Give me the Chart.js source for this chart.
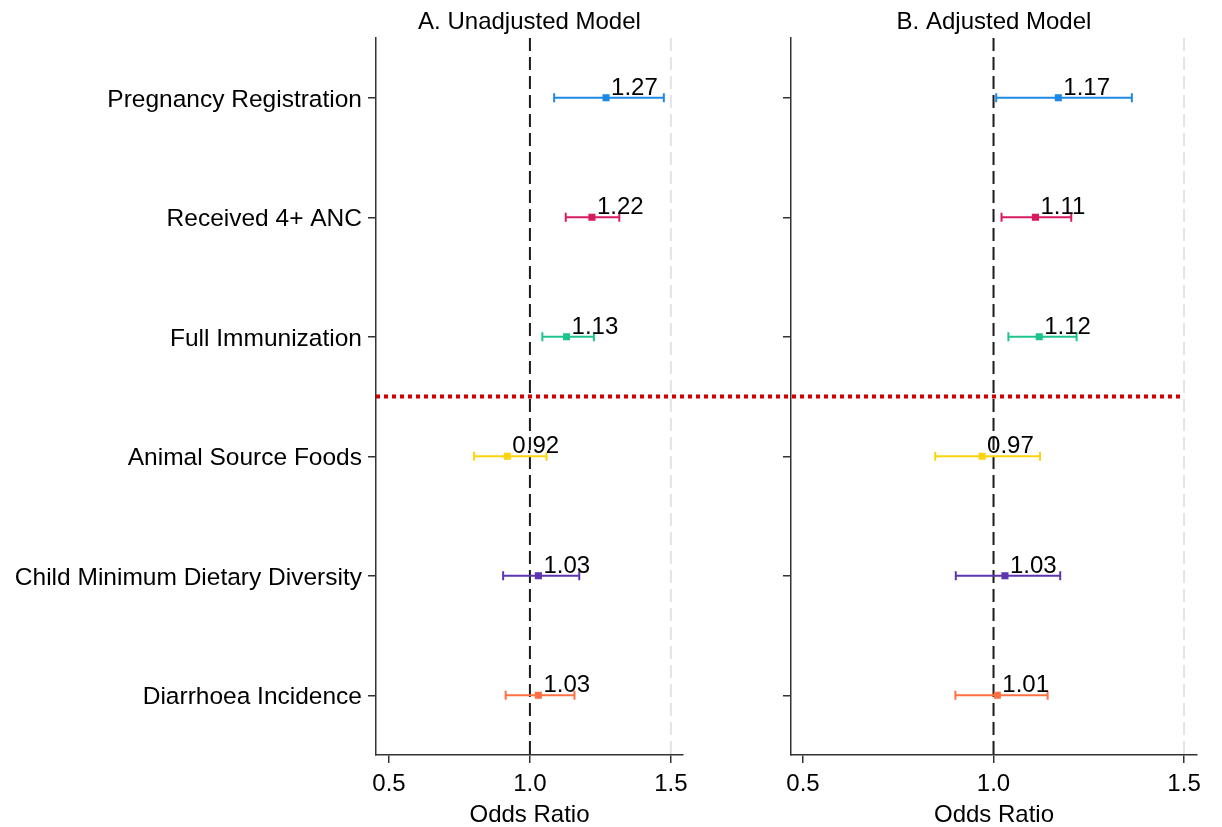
<!DOCTYPE html>
<html>
<head>
<meta charset="utf-8">
<script src="https://cdn.jsdelivr.net/npm/chart.js@4.4.1/dist/chart.umd.min.js"></script>
<style>
  html, body { margin: 0; padding: 0; background: #fff; }
  #wrap { position: relative; width: 1222px; height: 827px; }
  #chartA { position: absolute; left: 0; top: 0; }
  #chartB { position: absolute; left: 737px; top: 0; }
</style>
</head>
<body>
<div id="wrap">
  <canvas id="chartA" width="737" height="827"></canvas>
  <canvas id="chartB" width="485" height="827"></canvas>
</div>
<script>
// data
const outcomes = [
  'Pregnancy Registration',
  'Received 4+ ANC',
  'Full Immunization',
  'Animal Source Foods',
  'Child Minimum Dietary Diversity',
  'Diarrhoea Incidence'
];
const colors = ['#1e88e5', '#d81b60', '#1ec48c', '#fdd20f', '#5e35b1', '#ff7043'];

const unadjOR   = [1.27, 1.22, 1.13, 0.92, 1.03, 1.03];
const unadjLow  = [1.086, 1.127, 1.044, 0.802, 0.905, 0.914];
const unadjHigh = [1.475, 1.317, 1.227, 1.059, 1.175, 1.158];

const adjOR   = [1.17, 1.11, 1.12, 0.97, 1.03, 1.01];
const adjLow  = [1.007, 1.021, 1.039, 0.847, 0.901, 0.900];
const adjHigh = [1.363, 1.204, 1.218, 1.122, 1.175, 1.142];

const xTicks = [0.5, 1.0, 1.5];
const nullLine = 1.0;
const gridLine = 1.5;
const separatorAt = 2.5; // between Full Immunization and Animal Source Foods

const FONT = '"Liberation Sans", Arial, sans-serif';
const INK = '#000000';
const AXIS = '#333333';

function buildDatasets(or, lo, hi) {
  const ds = outcomes.map((name, i) => ({
    label: name,
    data: [{x: lo[i], y: name}, {x: hi[i], y: name}],
    showLine: true,
    borderColor: colors[i],
    borderWidth: 2,
    pointStyle: 'line',
    pointRotation: 90,
    pointRadius: 4.5,
    pointHoverRadius: 4.5,
    pointBorderWidth: 2,
    pointBorderColor: colors[i]
  }));
  ds.push({
    label: 'OR',
    data: outcomes.map((name, i) => ({x: or[i], y: name})),
    pointStyle: 'rect',
    pointRadius: 5,
    pointHoverRadius: 5,
    backgroundColor: colors,
    borderWidth: 0
  });
  return ds;
}

// reference lines, value labels and the panel title
const panelPlugin = {
  id: 'panel',
  beforeDatasetsDraw(chart, args, opts) {
    const {ctx, chartArea: a, scales: {x, y}} = chart;
    ctx.save();
    ctx.lineWidth = 2;
    ctx.setLineDash([13, 6]);
    let px = x.getPixelForValue(gridLine);
    ctx.strokeStyle = '#e4e4e4';
    ctx.beginPath(); ctx.moveTo(px, a.top); ctx.lineTo(px, a.bottom); ctx.stroke();
    px = x.getPixelForValue(nullLine);
    ctx.strokeStyle = '#1a1a1a';
    ctx.beginPath(); ctx.moveTo(px, a.top); ctx.lineTo(px, a.bottom); ctx.stroke();

    const sy = y.getPixelForValue(separatorAt);
    const x0 = opts.sepFromArea ? a.left : 0;
    const x1 = opts.sepToEdge ? chart.width : x.getPixelForValue(gridLine);
    ctx.setLineDash([4, 4]);
    ctx.lineDashOffset = opts.dashOffset || 0;
    ctx.lineWidth = 4;
    ctx.strokeStyle = '#cc0000';
    ctx.beginPath(); ctx.moveTo(x0, sy); ctx.lineTo(x1, sy); ctx.stroke();
    ctx.restore();
  },
  afterDatasetsDraw(chart, args, opts) {
    const {ctx, chartArea: a, scales: {x, y}} = chart;
    ctx.save();
    ctx.fillStyle = INK;
    ctx.font = '24px ' + FONT;
    ctx.textAlign = 'left';
    ctx.textBaseline = 'alphabetic';
    opts.values.forEach((v, i) => {
      ctx.fillText(v.toFixed(2), x.getPixelForValue(v) + 5, y.getPixelForValue(i) - 3);
    });
    ctx.textAlign = 'center';
    ctx.textBaseline = 'middle';
    ctx.fillText(opts.title, (a.left + a.right) / 2, 22);
    ctx.restore();
  }
};

function makeChart(canvasId, cfg) {
  return new Chart(document.getElementById(canvasId), {
    type: 'scatter',
    data: {datasets: buildDatasets(cfg.or, cfg.lo, cfg.hi)},
    options: {
      responsive: false,
      animation: false,
      events: [],
      layout: {padding: cfg.padding},
      scales: {
        x: {
          type: 'linear',
          min: cfg.xmin,
          max: cfg.xmax,
          afterBuildTicks: s => { s.ticks = xTicks.map(v => ({value: v})); },
          afterFit: s => { s.height = 72; },
          grid: {drawOnChartArea: false, drawTicks: true, tickLength: 8, color: AXIS, lineWidth: 1.5},
          border: {display: true, color: AXIS, width: 1.5},
          ticks: {color: INK, font: {size: 24, family: FONT}, padding: 7, maxRotation: 0,
                  callback: v => Number(v).toFixed(1)},
          title: {display: true, text: 'Odds Ratio', color: INK,
                  font: {size: 24, family: FONT, lineHeight: 1.0},
                  padding: {top: 0, bottom: 0}}
        },
        y: {
          type: 'category',
          labels: outcomes,
          offset: true,
          afterFit: s => { s.width = cfg.yWidth; },
          grid: {drawOnChartArea: false, drawTicks: true, tickLength: 8, offset: false, color: AXIS, lineWidth: 1.5},
          border: {display: true, color: AXIS, width: 1.5},
          ticks: {display: cfg.showLabels, color: INK, font: {size: 24.5, family: FONT},
                  padding: 6, labelOffset: 2}
        }
      },
      plugins: {
        legend: {display: false},
        tooltip: {enabled: false},
        panel: {
          title: cfg.title,
          values: cfg.or,
          sepFromArea: cfg.sepFromArea,
          sepToEdge: cfg.sepToEdge,
          dashOffset: cfg.dashOffset
        }
      }
    },
    plugins: [panelPlugin]
  });
}

makeChart('chartA', {
  title: 'A. Unadjusted Model',
  or: unadjOR, lo: unadjLow, hi: unadjHigh,
  xmin: 0.454, xmax: 1.543,
  yWidth: 376, showLabels: true,
  padding: {left: 0, top: 38, right: 54, bottom: 0},
  sepFromArea: true, sepToEdge: true, dashOffset: 0
});

makeChart('chartB', {
  title: 'B. Adjusted Model',
  or: adjOR, lo: adjLow, hi: adjHigh,
  xmin: 0.4685, xmax: 1.534,
  yWidth: 54, showLabels: false,
  padding: {left: 0, top: 38, right: 25, bottom: 0},
  sepFromArea: false, sepToEdge: false, dashOffset: 1
});
</script>
</body>
</html>
